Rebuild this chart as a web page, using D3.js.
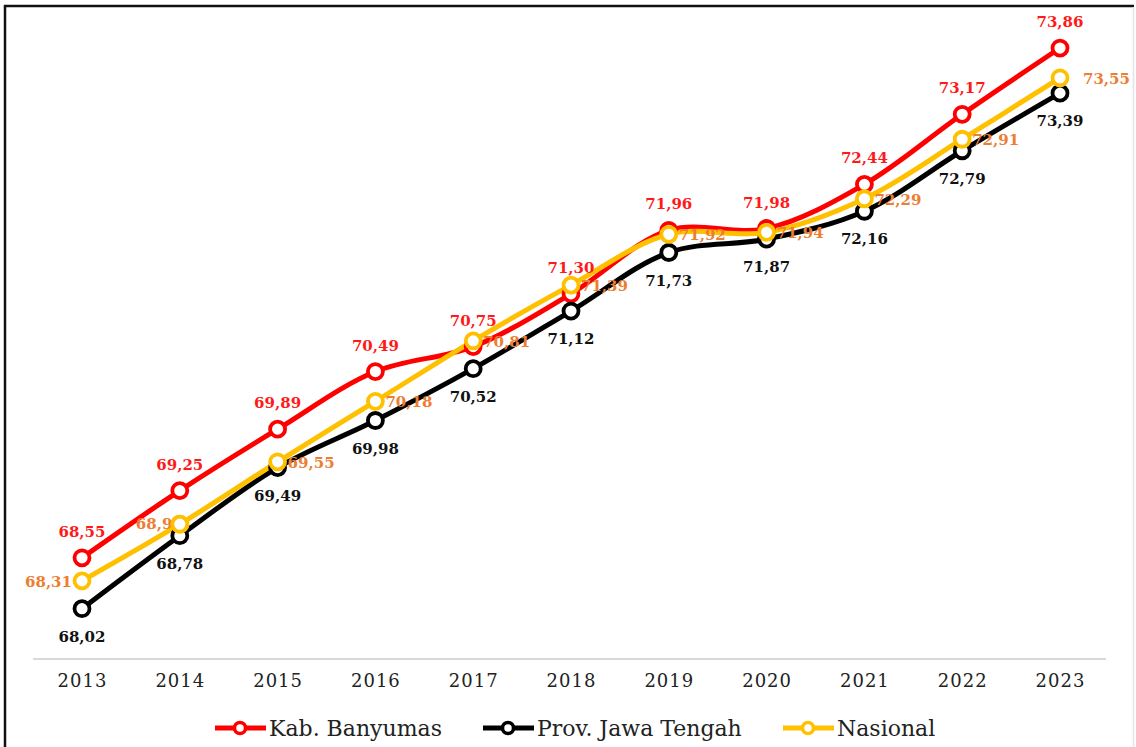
<!DOCTYPE html>
<html>
<head>
<meta charset="utf-8">
<script src="https://cdn.jsdelivr.net/npm/d3@7"></script>
<style>
  body { margin: 0; background: #fff; }
  svg { display: block; }
</style>
</head>
<body>
<svg id="chart" width="1136" height="747"></svg>
<script>
const years = ['2013', '2014', '2015', '2016', '2017', '2018', '2019', '2020', '2021', '2022', '2023'];
const banyumas = [68.55, 69.25, 69.89, 70.49, 70.75, 71.30, 71.96, 71.98, 72.44, 73.17, 73.86];
const jateng = [68.02, 68.78, 69.49, 69.98, 70.52, 71.12, 71.73, 71.87, 72.16, 72.79, 73.39];
const nasional = [68.31, 68.90, 69.55, 70.18, 70.81, 71.39, 71.92, 71.94, 72.29, 72.91, 73.55];
const seriesNames = ['Kab. Banyumas', 'Prov. Jawa Tengah', 'Nasional'];

const width = 1136, height = 747;
const serif = "'DejaVu Serif', 'Liberation Serif', serif";

const svg = d3.select('#chart');

// frame of the pasted picture
svg.append('line').attr('x1', 4).attr('x2', 1134).attr('y1', 6).attr('y2', 6)
  .attr('stroke', '#111').attr('stroke-width', 2.5);
svg.append('line').attr('x1', 5).attr('x2', 5).attr('y1', 5).attr('y2', height)
  .attr('stroke', '#111').attr('stroke-width', 2.5);
svg.append('line').attr('x1', 1133.5).attr('x2', 1133.5).attr('y1', 7).attr('y2', height)
  .attr('stroke', '#e4e4e4').attr('stroke-width', 1.5);

const x = d3.scalePoint().domain(years).range([82, 1060]);
const y = d3.scaleLinear().domain([67.5, 74]).range([658.6, 34.6]);

// x axis
const xAxis = svg.append('g')
  .attr('transform', 'translate(0,659)')
  .call(d3.axisBottom(x).tickSize(0).tickPadding(15));
xAxis.select('.domain').remove();
svg.append('line').attr('x1', 33).attr('x2', 1106).attr('y1', 659).attr('y2', 659)
  .attr('stroke', '#d9d9d9').attr('stroke-width', 2);
xAxis.selectAll('text')
  .style('font-family', serif)
  .style('font-size', '18px')
  .style('letter-spacing', '1px')
  .style('fill', '#222');

const series = [
  { name: seriesNames[0], values: banyumas, color: '#ff0000', label: '#ff1a1a' },
  { name: seriesNames[1], values: jateng, color: '#000000', label: '#111111' },
  { name: seriesNames[2], values: nasional, color: '#ffc000', label: '#ed7d31' }
];

const line = d3.line()
  .x((d, i) => x(years[i]))
  .y(d => y(d))
  .curve(d3.curveCatmullRom.alpha(0.5));

// lines first, then markers, in order red, black, yellow
series.forEach(s => {
  svg.append('path')
    .datum(s.values)
    .attr('fill', 'none')
    .attr('stroke', s.color)
    .attr('stroke-width', 5)
    .attr('d', line);
});

series.forEach(s => {
  svg.append('g').selectAll('circle')
    .data(s.values)
    .join('circle')
    .attr('cx', (d, i) => x(years[i]))
    .attr('cy', d => y(d))
    .attr('r', 7.5)
    .attr('fill', '#fff')
    .attr('stroke', s.color)
    .attr('stroke-width', 3.8);
});

const fmt = v => v.toFixed(2).replace('.', ',');

function labels(s, place) {
  svg.append('g').selectAll('text')
    .data(s.values)
    .join('text')
    .attr('x', (d, i) => x(years[i]) + place(i).dx)
    .attr('y', (d, i) => y(d) + place(i).dy)
    .attr('text-anchor', (d, i) => place(i).anchor)
    .attr('dominant-baseline', 'central')
    .style('font-family', serif)
    .style('font-weight', 'bold')
    .style('font-size', '15px')
    .style('fill', s.label)
    .text(d => fmt(d));
}

labels(series[0], i => ({ dx: 0, dy: -26, anchor: 'middle' }));
labels(series[1], i => ({ dx: 0, dy: 28, anchor: 'middle' }));
labels(series[2], i => {
  if (i === 0) return { dx: -10, dy: 1, anchor: 'end' };
  if (i === 1) return { dx: 3, dy: 0, anchor: 'end' };
  if (i === years.length - 1) return { dx: 23, dy: 1, anchor: 'start' };
  return { dx: 10, dy: 1, anchor: 'start' };
});

// Nasional 2014 marker again on top, it hides the tail of its label
svg.append('circle')
  .attr('cx', x(years[1])).attr('cy', y(nasional[1])).attr('r', 7.5)
  .attr('fill', '#fff').attr('stroke', series[2].color).attr('stroke-width', 3.8);

// legend
const legendX = [215, 483, 783];
const legend = svg.append('g');
series.forEach((s, i) => {
  const g = legend.append('g').attr('transform', `translate(${legendX[i]},728)`);
  g.append('line').attr('x1', 0).attr('x2', 51).attr('y1', 0).attr('y2', 0)
    .attr('stroke', s.color).attr('stroke-width', 5);
  g.append('circle').attr('cx', 25).attr('cy', 0).attr('r', 5.5)
    .attr('fill', '#fff').attr('stroke', s.color).attr('stroke-width', 3.5);
  g.append('text').attr('x', 54).attr('y', 0)
    .attr('dominant-baseline', 'central')
    .style('font-family', serif)
    .style('font-size', '22px')
    .style('fill', '#222')
    .text(s.name);
});
</script>
</body>
</html>
